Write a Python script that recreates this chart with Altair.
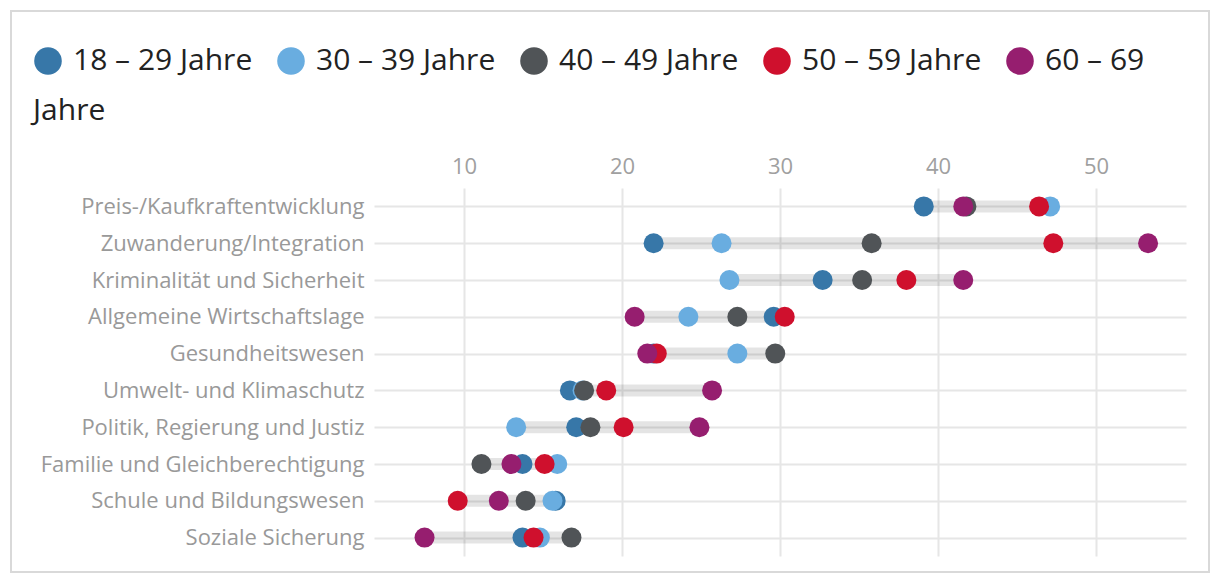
import altair as alt
import pandas as pd

categories = [
    "Preis-/Kaufkraftentwicklung",
    "Zuwanderung/Integration",
    "Kriminalität und Sicherheit",
    "Allgemeine Wirtschaftslage",
    "Gesundheitswesen",
    "Umwelt- und Klimaschutz",
    "Politik, Regierung und Justiz",
    "Familie und Gleichberechtigung",
    "Schule und Bildungswesen",
    "Soziale Sicherung",
]
groups = ["18 – 29 Jahre", "30 – 39 Jahre", "40 – 49 Jahre", "50 – 59 Jahre", "60 – 69 Jahre"]
colors = ["#3777a8", "#69ade0", "#505457", "#cf102d", "#961e6f"]

age_18_29 = [39.1, 22.0, 32.7, 29.6, 22.0, 16.7, 17.1, 13.7, 15.8, 13.7]
age_30_39 = [47.1, 26.3, 26.8, 24.2, 27.3, 17.5, 13.3, 15.9, 15.6, 14.8]
age_40_49 = [41.8, 35.8, 35.2, 27.3, 29.7, 17.6, 18.0, 11.1, 13.9, 16.8]
age_50_59 = [46.4, 47.3, 38.0, 30.3, 22.2, 19.0, 20.1, 15.1, 9.6, 14.4]
age_60_69 = [41.6, 53.3, 41.6, 20.8, 21.6, 25.7, 24.9, 13.0, 12.2, 7.5]

series = [age_18_29, age_30_39, age_40_49, age_50_59, age_60_69]
rows = []
for gi, (g, vals) in enumerate(zip(groups, series)):
    for c, v in zip(categories, vals):
        rows.append({"category": c, "group": g, "gi": gi, "value": v})
df = pd.DataFrame(rows)

FONT = "Open Sans"

x_scale = alt.Scale(domain=[4.3, 55.7], nice=False, zero=False)
y_scale = alt.Scale(type="point", padding=0.5, domain=categories)

base = alt.Chart(df)

ranges = base.mark_rule(strokeWidth=12, color="#000000", opacity=0.105).encode(
    y=alt.Y("category:N", scale=y_scale, sort=categories,
            axis=alt.Axis(title=None, ticks=False, domain=False, grid=True,
                          gridColor="#e6e6e6", gridWidth=2,
                          labelFontSize=22, labelColor="#999999",
                          labelPadding=10, labelFont=FONT, labelLimit=400)),
    x=alt.X("min(value):Q", scale=x_scale,
            axis=alt.Axis(orient="top", title=None, values=[10, 20, 30, 40, 50],
                          ticks=False, tickSize=0, domain=False, grid=True,
                          gridColor="#e6e6e6", gridWidth=2,
                          labelFontSize=22, labelColor="#a0a0a0",
                          labelPadding=10, labelFont=FONT)),
    x2="max(value):Q",
)

points = base.mark_point(filled=True, size=400, opacity=1).encode(
    y=alt.Y("category:N", scale=y_scale, sort=categories),
    x=alt.X("value:Q", scale=x_scale),
    color=alt.Color("group:N", scale=alt.Scale(domain=groups, range=colors),
                    legend=alt.Legend(
                        orient="none", legendX=-341, legendY=-142,
                        direction="horizontal", columns=5, gridAlign="all",
                        title="Jahre", titleOrient="bottom", titleAnchor="start",
                        titleFontSize=30, titleFontWeight="normal", titleColor="#222222",
                        titleFont=FONT, titlePadding=20,
                        labelFontSize=30, labelColor="#222222", labelFont=FONT,
                        labelExpr="datum.label == '60 – 69 Jahre' ? '60 – 69' : datum.label",
                        labelOffset=10, columnPadding=23, symbolSize=760,
                        symbolType="circle", symbolStrokeWidth=0, padding=0,
                        labelLimit=400)),
    order=alt.Order("gi:Q"),
)

frame = alt.Chart(pd.DataFrame({"f": [0]})).mark_rect(
    fillOpacity=0, stroke="#d9d9d9", strokeWidth=2
).encode(
    x=alt.value(-363), x2=alt.value(835), y=alt.value(-177), y2=alt.value(384)
)

chart = alt.layer(frame, ranges, points).properties(
    width=812, height=368,
    autosize=alt.AutoSizeParams(type="none"),
    padding={"left": 366, "top": 180, "right": 26, "bottom": 22},
).configure(font=FONT).configure_view(stroke=None)

chart.save("out.html", embed_options={"renderer": "svg", "actions": False})
